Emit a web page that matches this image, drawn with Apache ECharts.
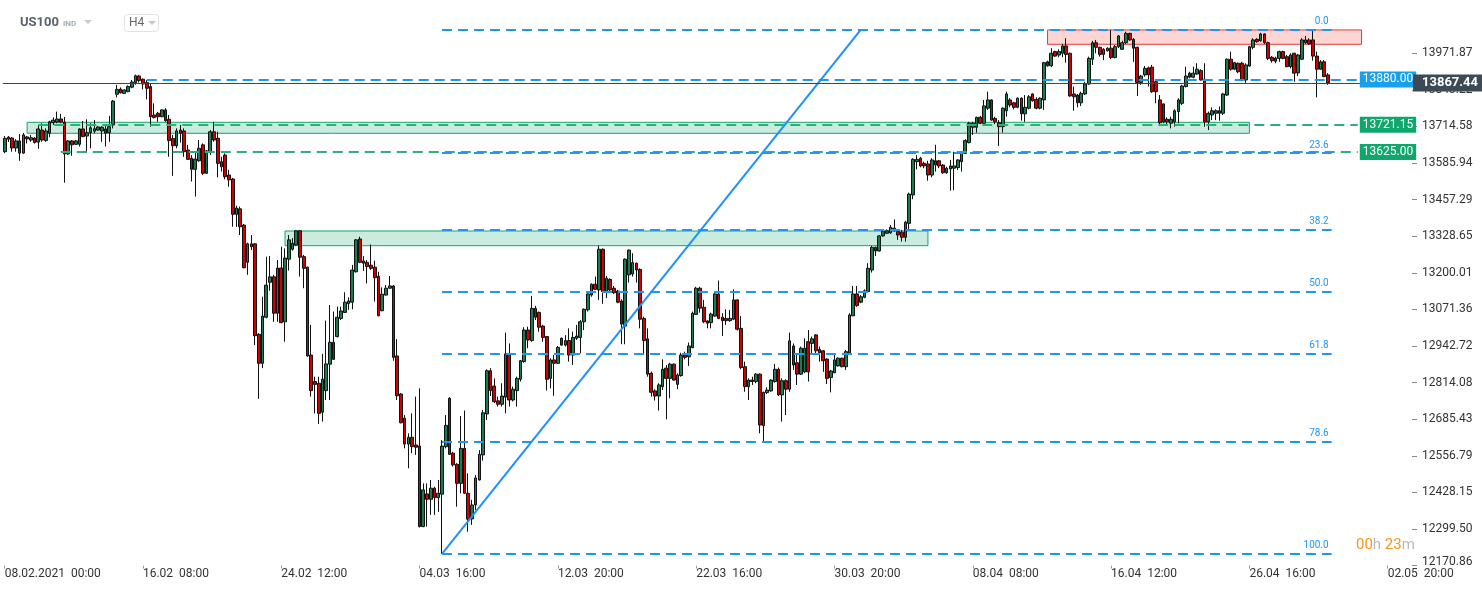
<!DOCTYPE html>
<html><head><meta charset="utf-8">
<script src="https://cdn.jsdelivr.net/npm/echarts@6/dist/echarts.min.js"></script>
<style>html,body{margin:0;padding:0;background:#fff}#c{width:1482px;height:590px}</style>
</head><body><div id="c"></div>
<script>
// [open, close, low, high] per H4 bar
const ohlc = [
[13626,13673,13621,13681],[13677,13670,13660,13681],[13674,13639,13626,13677],[13639,13664,13626,13670],[13664,13621,13594,13688],
[13621,13685,13618,13692],[13678,13671,13655,13681],[13667,13675,13661,13685],[13674,13658,13655,13677],[13660,13706,13636,13720],
[13702,13667,13661,13726],[13665,13699,13661,13708],[13691,13731,13677,13735],[13728,13737,13720,13747],[13730,13741,13726,13767],
[13741,13730,13726,13759],[13730,13618,13517,13748],[13618,13664,13615,13667],[13664,13650,13612,13667],[13652,13664,13650,13667],
[13652,13706,13644,13708],[13706,13679,13677,13734],[13681,13693,13622,13740],[13693,13710,13638,13726],[13698,13707,13691,13737],
[13702,13713,13700,13716],[13699,13712,13661,13716],[13706,13691,13644,13720],[13693,13714,13661,13752],[13720,13804,13708,13808],
[13828,13845,13817,13861],[13846,13833,13831,13852],[13831,13843,13829,13845],[13837,13855,13835,13859],[13853,13871,13849,13878],
[13869,13893,13861,13897],[13892,13876,13869,13896],[13881,13864,13845,13883],[13869,13849,13810,13878],[13855,13749,13714,13867],
[13755,13746,13743,13796],[13761,13749,13731,13766],[13749,13773,13747,13775],[13773,13735,13731,13779],[13740,13665,13608,13755],
[13672,13647,13541,13685],[13647,13699,13638,13708],[13702,13691,13658,13720],[13699,13626,13608,13708],[13632,13599,13597,13650],
[13603,13564,13521,13614],[13564,13600,13468,13621],[13594,13638,13591,13667],[13650,13550,13544,13655],[13550,13629,13548,13632],
[13623,13696,13614,13702],[13696,13667,13661,13731],[13673,13585,13536,13696],[13591,13573,13556,13608],[13614,13538,13529,13620],
[13544,13527,13503,13562],[13530,13406,13362,13534],[13406,13428,13362,13436],[13425,13362,13333,13433],[13368,13218,13216,13372],
[13237,13302,13193,13306],[13302,13292,13280,13333],[13302,12979,12946,13304],[12984,12882,12757,12988],[12882,13048,12865,13116],
[13044,13157,13040,13257],[13167,13186,13137,13259],[13186,13058,13028,13193],[13058,13217,13028,13245],[13217,13025,13023,13292],
[13028,13252,12958,13286],[13248,13316,13208,13333],[13283,13304,13278,13322],[13298,13348,13296,13351],[13348,13255,13187,13351],
[13257,13216,13146,13263],[13220,12908,12905,13222],[12911,12786,12765,13017],[12818,12808,12706,12835],[12812,12706,12669,12835],
[12710,12826,12677,12915],[12786,12880,12753,13032],[12879,12956,12753,13087],[12956,12896,12894,13064],[12976,13044,12973,13081],
[13040,13066,13034,13081],[13061,13097,13060,13132],[13092,13101,13070,13114],[13097,13210,13072,13228],[13204,13316,13201,13319],
[13319,13237,13234,13327],[13242,13234,13207,13259],[13237,13222,13163,13245],[13227,13216,13210,13300],[13220,13183,13099,13243],
[13188,13049,13048,13204],[13067,13125,13065,13149],[13122,13146,13120,13157],[13146,13154,13145,13189],[13154,12903,12891,13157],
[12908,12768,12753,12967],[12774,12673,12671,12777],[12689,12598,12583,12700],[12598,12622,12513,12636],[12622,12589,12566,12706],
[12595,12587,12560,12765],[12591,12308,12305,12794],[12308,12437,12306,12460],[12423,12404,12308,12460],[12404,12443,12349,12472],
[12443,12410,12349,12448],[12410,12425,12360,12472],[12422,12591,12212,12612],[12589,12664,12583,12700],[12759,12562,12560,12763],
[12566,12525,12519,12571],[12527,12460,12378,12531],[12460,12583,12425,12697],[12583,12425,12423,12716],[12425,12334,12290,12495],
[12335,12384,12314,12402],[12384,12479,12366,12489],[12472,12562,12470,12577],[12560,12708,12540,12718],[12704,12856,12683,12861],
[12856,12786,12767,12865],[12802,12747,12742,12829],[12750,12738,12730,12765],[12738,12767,12730,12812],[12763,12915,12706,12990],
[12915,12753,12730,12952],[12753,12791,12748,12800],[12786,12829,12730,12835],[12826,12891,12818,12894],[12888,12999,12884,13009],
[12999,12964,12935,13011],[12962,13075,12958,13119],[13075,13044,13034,13084],[13061,13009,12993,13064],[13013,12973,12958,13017],
[12976,12826,12786,12978],[12829,12894,12794,12900],[12894,12882,12768,12911],[12882,12938,12880,12943],[12970,12946,12944,12973],
[12946,12962,12941,12981],[12962,12911,12888,13005],[12911,12973,12876,12993],[12970,12978,12964,13017],[12973,13028,12917,13034],
[13028,13072,12999,13075],[13070,13126,13064,13128],[13122,13160,13116,13163],[13160,13142,13140,13187],[13140,13283,13105,13296],
[13283,13134,13091,13286],[13134,13181,13111,13189],[13177,13140,13134,13181],[13146,13130,13126,13154],[13136,13097,13093,13140],
[13101,13020,12949,13107],[13013,13248,12949,13251],[13193,13280,13166,13282],[13196,13236,13187,13269],[13234,13210,13166,13236],
[13212,13037,13005,13216],[13040,12962,12917,13046],[12968,12844,12835,13005],[12847,12780,12765,12853],[12785,12767,12751,12791],
[12767,12806,12716,12812],[12800,12861,12788,12896],[12865,12829,12685,12876],[12829,12879,12759,12884],[12879,12823,12821,12882],
[12808,12841,12791,12847],[12839,12911,12835,12919],[12911,12903,12896,12923],[12905,12943,12873,12955],[12937,13058,12935,13064],
[13054,13146,13052,13151],[13146,13076,13060,13151],[13079,13028,13023,13105],[13031,13023,13005,13034],[13025,13055,13005,13060],
[13048,13126,13046,13134],[13126,13040,13037,13173],[13044,13032,12978,13058],[13040,13032,13017,13072],[13032,13040,13028,13070],
[13037,13105,13034,13142],[13105,13002,12997,13107],[13005,12867,12861,13048],[12870,12800,12782,12888],[12800,12823,12753,12829],
[12823,12818,12806,12835],[12818,12844,12812,12847],[12844,12665,12636,12847],[12663,12780,12607,12782],[12779,12788,12774,12798],
[12785,12823,12782,12826],[12818,12861,12814,12880],[12861,12771,12767,12867],[12771,12821,12677,12829],[12821,12791,12700,12826],
[12791,12961,12782,12990],[12943,12876,12859,12952],[12884,12844,12806,12911],[12844,12935,12841,12941],[12852,12935,12847,12970],
[12958,12852,12818,12999],[12952,12968,12917,12976],[12982,12926,12917,12984],[12931,12919,12888,12941],[12926,12891,12852,12929],
[12897,12829,12809,12900],[12832,12855,12780,12859],[12849,12894,12847,12911],[12873,12900,12870,12903],[12900,12870,12868,12902],
[12870,12923,12859,12929],[12919,13052,12917,13058],[13049,13126,13048,13154],[13126,13085,13081,13154],[13097,13116,13093,13122],
[13114,13137,13111,13142],[13134,13216,13130,13234],[13210,13290,13201,13295],[13290,13277,13259,13292],[13277,13330,13275,13333],
[13330,13347,13327,13353],[13339,13348,13337,13353],[13341,13360,13337,13368],[13348,13357,13345,13388],[13345,13333,13316,13353],
[13343,13325,13310,13351],[13325,13378,13310,13383],[13374,13477,13353,13482],[13474,13599,13459,13603],[13591,13599,13564,13614],
[13603,13576,13571,13608],[13585,13576,13568,13591],[13583,13544,13524,13594],[13544,13597,13536,13603],[13594,13579,13556,13650],
[13594,13576,13568,13597],[13579,13552,13548,13583],[13552,13568,13548,13573],[13565,13576,13489,13597],[13568,13576,13491,13626],
[13570,13597,13562,13599],[13591,13620,13556,13626],[13620,13665,13618,13670],[13658,13726,13655,13731],[13712,13726,13685,13731],
[13712,13747,13693,13749],[13747,13726,13723,13752],[13726,13787,13723,13808],[13779,13808,13773,13837],[13808,13737,13735,13810],
[13743,13731,13723,13749],[13728,13714,13646,13737],[13714,13779,13693,13782],[13770,13829,13749,13837],[13808,13790,13782,13814],
[13798,13782,13775,13801],[13782,13814,13779,13817],[13814,13759,13735,13817],[13759,13782,13731,13825],[13779,13819,13775,13825],
[13829,13805,13802,13831],[13810,13779,13775,13817],[13779,13814,13775,13817],[13808,13939,13773,13942],[13942,13928,13925,13946],
[13928,13972,13923,13990],[13978,13962,13960,13981],[13966,13978,13958,13986],[13972,13998,13958,14005],[13998,13968,13939,14025],
[13972,13822,13819,13974],[13829,13819,13770,13855],[13825,13798,13782,13829],[13798,13831,13787,13837],[13829,13864,13825,13872],
[13864,13954,13861,13960],[13951,14009,13931,14016],[14009,13993,13972,14019],[13993,13968,13960,13995],[13968,13986,13948,13990],
[13981,13990,13978,13993],[13990,13957,13951,14054],[13957,13995,13954,14001],[13995,14033,13990,14036],[13986,14009,13984,14016],
[14009,14042,14005,14048],[14042,14019,14016,14044],[14021,13990,13942,14025],[13993,13869,13822,13995],[13869,13892,13861,13896],
[13896,13919,13890,13927],[13921,13896,13855,13925],[13923,13837,13833,13931],[13872,13837,13796,13878],[13808,13728,13716,13825],
[13794,13731,13726,13796],[13740,13731,13723,13747],[13726,13740,13708,13749],[13731,13770,13714,13775],[13767,13808,13726,13814],
[13796,13857,13790,13861],[13855,13892,13852,13925],[13902,13888,13884,13907],[13888,13902,13884,13925],[13899,13916,13896,13937],
[13911,13878,13876,13916],[13881,13731,13714,13937],[13731,13761,13702,13767],[13755,13770,13737,13782],[13761,13770,13737,13775],
[13770,13761,13735,13785],[13761,13829,13755,13833],[13825,13951,13822,13954],[13951,13916,13911,13978],[13916,13939,13913,13942],
[13937,13907,13902,13939],[13937,13878,13876,13942],[13878,13931,13867,13937],[13927,13995,13925,13998],[13993,14019,13986,14025],
[14021,14013,14009,14025],[14016,14040,14013,14044],[14040,14009,14005,14042],[14009,13954,13948,14013],[13958,13946,13939,13962],
[13955,13944,13937,13960],[13954,13978,13942,13981],[13978,13954,13951,13981],[13960,13925,13923,13966],[13925,13966,13919,13972],
[13972,13902,13872,13974],[13903,13966,13892,13970],[13951,14019,13948,14025],[14009,14019,14005,14033],[14019,14005,14001,14025],
[14019,13962,13946,14056],[13962,13916,13817,13978],[13916,13942,13913,13948],[13942,13890,13888,13948],[13896,13867.44,13861,13902]
];

const totalSlots = 377;          // bars incl. empty future slots
const xTickEvery = 37;           // bars between time labels
const xTickLabels = ['08.02.2021  00:00','16.02  08:00','24.02  12:00','04.03  16:00','12.03  20:00',
  '22.03  16:00','30.03  20:00','08.04  08:00','16.04  12:00','26.04  16:00','02.05  20:00'];

const yMin = 12170.86, yMax = 14159.3;
const yTickLabels = ['12170.86','12299.50','12428.15','12556.79','12685.43','12814.08','12942.72',
  '13071.36','13200.01','13328.65','13457.29','13585.94','13714.58','13843.22','13971.87'];

const levelValues = [13880, 13721.15, 13625];
const levelNames = ['13880.00', '13721.15', '13625.00'];
const levelStartBar = [38, 9, 15];
const levelEndBar = 362;

const fibLevels = [0, 23.6, 38.2, 50, 61.8, 78.6, 100];
const fibNames = ['0.0', '23.6', '38.2', '50.0', '61.8', '78.6', '100.0'];
const fibHigh = 14056, fibLow = 12212;
const fibStartBar = 117, fibEndBar = 355;

const trendFrom = [117, 12212], trendTo = [229, 14054];

const zoneStartBar = [6, 75, 279];
const zoneEndBar = [333, 247, 363];
const zoneTop = [13729.3, 13347.2, 14054];
const zoneBottom = [13690.7, 13295.5, 14003.6];

const lastPrice = 13867.44;

// ---------------------------------------------------------------
const cats = Array.from({length: totalSlots}, (_, i) => String(i));
const yTickValues = yTickLabels.map(Number);
const FONT = 'Roboto';
const blue = '#2196f3', green = '#2bb07c';

const lineData = [];
levelValues.forEach((v, k) => {
  const isBlue = k === 0;
  lineData.push([
    { coord: [levelStartBar[k], v],
      lineStyle: { color: isBlue ? blue : green, type: [10, 6], width: 2.2 },
      label: { show: true, position: 'end', distance: 2, formatter: levelNames[k],
        backgroundColor: isBlue ? '#18a0ee' : '#0fa86c', color: '#fff', fontSize: 12, fontFamily: FONT,
        padding: [2, 3, 1, 3], lineHeight: 13 } },
    { coord: [levelEndBar, v] }
  ]);
});
fibLevels.forEach((lv, k) => {
  const v = fibHigh - (fibHigh - fibLow) * lv / 100;
  lineData.push([
    { coord: [fibStartBar, v],
      lineStyle: { color: blue, type: [10, 6], width: 2 },
      label: { show: true, position: 'insideEndTop', distance: 3, formatter: fibNames[k],
        color: blue, fontSize: 10, fontFamily: FONT } },
    { coord: [fibEndBar, v] }
  ]);
});
lineData.push([
  { coord: trendFrom, lineStyle: { color: '#1e90ff', type: 'solid', width: 2 }, label: { show: false } },
  { coord: trendTo }
]);
lineData.push({
  yAxis: lastPrice,
  lineStyle: { color: '#3b4750', type: 'solid', width: 1 },
  label: { show: true, position: 'end', distance: 1, formatter: lastPrice.toFixed(2),
    backgroundColor: '#3b4a55', color: '#fff', fontSize: 13, fontWeight: 'bold', fontFamily: FONT,
    padding: [2, 4, 1, 9], lineHeight: 14 }
});

const areaData = zoneStartBar.map((s, k) => {
  const red = k === 2;
  return [
    { coord: [s, zoneTop[k]],
      itemStyle: { color: red ? 'rgba(244,67,54,0.22)' : 'rgba(40,180,125,0.25)',
        borderColor: red ? '#e53935' : '#1aa36f', borderWidth: 1 } },
    { coord: [zoneEndBar[k], zoneBottom[k]] }
  ];
});

const chart = echarts.init(document.getElementById('c'), null, { renderer: 'canvas' });
chart.setOption({
  animation: false,
  backgroundColor: '#fff',
  textStyle: { fontFamily: FONT },
  grid: { left: 2.8, right: 70, top: 0, bottom: 24.4, containLabel: false },
  xAxis: {
    type: 'category', data: cats, boundaryGap: true,
    axisLine: { show: false },
    axisTick: { show: true, alignWithLabel: true, interval: i => i % xTickEvery === 0, length: 3,
      lineStyle: { color: '#9a9a9a' } },
    axisLabel: { interval: i => i % xTickEvery === 0,
      formatter: (v, i) => xTickLabels[i / xTickEvery] || '',
      align: 'left', margin: 2, color: '#333', fontSize: 12, fontFamily: FONT },
    splitLine: { show: false }
  },
  yAxis: {
    type: 'value', position: 'right', min: yMin, max: yMax,
    axisLine: { show: false },
    axisTick: { show: true, length: 5, customValues: yTickValues, lineStyle: { color: '#888' } },
    splitLine: { show: false },
    axisLabel: {
      customValues: yTickValues, margin: 10, color: '#333', fontSize: 12, fontFamily: FONT,
      formatter: v => {
        const k = yTickValues.findIndex(t => Math.abs(t - v) < 0.01);
        if (k < 0) return '';
        return k === 0 ? '{lo|' + yTickLabels[k] + '}' : yTickLabels[k];
      },
      rich: { lo: { padding: [0, 0, 8, 0], fontSize: 12, color: '#333', fontFamily: FONT } }
    }
  },
  series: [{
    type: 'candlestick',
    data: ohlc,
    barWidth: 3.2,
    clip: false,
    itemStyle: { color: '#1d7a4e', color0: '#d10000', borderColor: '#111', borderColor0: '#111', borderWidth: 1 },
    markArea: { silent: true, data: areaData },
    markLine: { silent: true, symbol: ['none', 'none'], animation: false, data: lineData }
  }],
  graphic: [
    { type: 'text', left: 20, top: 16, style: { text: 'US100', font: 'bold 13px Roboto', fill: '#59636d' } },
    { type: 'text', left: 63, top: 20, style: { text: 'IND', font: 'bold 8px Roboto', fill: '#a3adb7' } },
    { type: 'polygon', shape: { points: [[84, 20], [92, 20], [88, 24]] }, style: { fill: '#c3c9cf' } },
    { type: 'rect', shape: { x: 124.5, y: 14.5, width: 34, height: 17, r: 3 }, style: { fill: '#fff', stroke: '#dfe3e7', lineWidth: 1 } },
    { type: 'text', left: 129, top: 17, style: { text: 'H4', font: '12px Roboto', fill: '#666' } },
    { type: 'polygon', shape: { points: [[148, 21], [156, 21], [152, 25]] }, style: { fill: '#c3c9cf' } },
    { type: 'text', left: 1356, top: 538, style: {
        text: '{o|00}{g|h }{o|23}{g|m}',
        rich: { o: { fill: '#f7941d', font: '15px Roboto' }, g: { fill: '#b8b8b8', font: '15px Roboto' } } } }
  ]
});
</script>
</body></html>
